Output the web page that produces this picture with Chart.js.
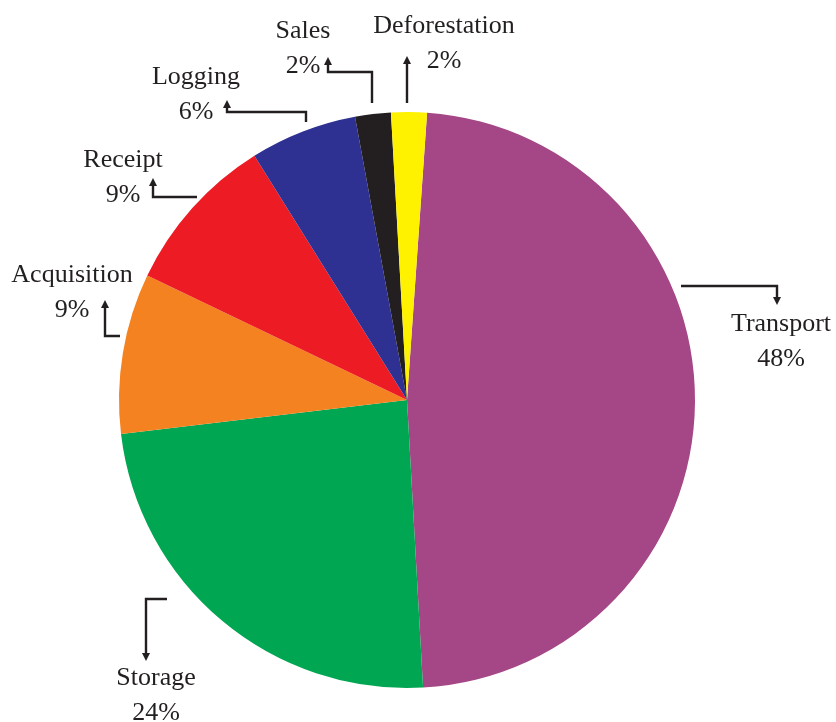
<!DOCTYPE html>
<html>
<head>
<meta charset="utf-8">
<script src="https://cdn.jsdelivr.net/npm/chart.js@4.4.0/dist/chart.umd.min.js"></script>
<style>
  html, body { margin: 0; padding: 0; background: #ffffff; }
  #wrap { width: 836px; height: 722px; position: relative; }
</style>
</head>
<body>
<div id="wrap"><canvas id="c" width="836" height="722"></canvas></div>
<script>
// ---- data ----
const categories = ["Transport", "Storage", "Acquisition", "Receipt", "Logging", "Sales", "Deforestation"];
const shares = [48, 24, 9, 9, 6, 2, 2];
const percentLabels = ["48%", "24%", "9%", "9%", "6%", "2%", "2%"];
const sliceColors = ["#a54686", "#00a651", "#f58220", "#ed1c24", "#2e3192", "#231f20", "#fff200"];

// ---- callout layout (relative to pie centre, in px) ----
// path: connector polyline, arrow at the last point; text: centre of the name line
const callouts = [
  { path: [[274, -114], [370, -114], [370, -95]], text: [374, -76] },   // Transport
  { path: [[-240, 199], [-261, 199], [-261, 261]], text: [-251, 278] }, // Storage
  { path: [[-287, -64], [-302, -64], [-302, -100]], text: [-335, -125] }, // Acquisition
  { path: [[-210, -203], [-254, -203], [-254, -222]], text: [-284, -240] }, // Receipt
  { path: [[-101, -278], [-101, -288], [-180, -288], [-180, -300]], text: [-211, -323] }, // Logging
  { path: [[-35, -297], [-35, -328], [-79, -328], [-79, -343]], text: [-104, -369] }, // Sales
  { path: [[0, -297], [0, -344]], text: [37, -374] } // Deforestation
];

const ink = "#231f20";
const calloutPlugin = {
  id: "callouts",
  afterDraw(chart) {
    const meta = chart.getDatasetMeta(0);
    const arc0 = meta.data[0];
    const cx = arc0.x, cy = arc0.y;
    const ctx = chart.ctx;
    ctx.save();
    ctx.strokeStyle = ink;
    ctx.fillStyle = ink;
    ctx.lineWidth = 2.4;
    ctx.lineJoin = "miter";
    callouts.forEach((c, i) => {
      const pts = c.path.map(p => [cx + p[0], cy + p[1]]);
      const n = pts.length;
      const last = pts[n - 1], prev = pts[n - 2];
      const dx = last[0] - prev[0], dy = last[1] - prev[1];
      const len = Math.hypot(dx, dy);
      const ux = dx / len, uy = dy / len;
      const ah = 8, aw = 4;
      ctx.beginPath();
      ctx.moveTo(pts[0][0], pts[0][1]);
      for (let k = 1; k < n - 1; k++) ctx.lineTo(pts[k][0], pts[k][1]);
      ctx.lineTo(last[0] - ux * (ah - 1), last[1] - uy * (ah - 1));
      ctx.stroke();
      ctx.beginPath();
      ctx.moveTo(last[0], last[1]);
      ctx.lineTo(last[0] - ux * ah - uy * aw, last[1] - uy * ah + ux * aw);
      ctx.lineTo(last[0] - ux * ah + uy * aw, last[1] - uy * ah - ux * aw);
      ctx.closePath();
      ctx.fill();
      ctx.font = "26px 'Liberation Serif', 'DejaVu Serif', serif";
      ctx.textAlign = "center";
      ctx.textBaseline = "middle";
      const tx = cx + c.text[0], ty = cy + c.text[1];
      ctx.fillText(categories[i], tx, ty);
      ctx.fillText(percentLabels[i], tx, ty + 35);
    });
    ctx.restore();
  }
};

new Chart(document.getElementById("c"), {
  type: "pie",
  data: {
    labels: categories,
    datasets: [{
      data: shares,
      backgroundColor: sliceColors,
      borderWidth: 0,
      hoverOffset: 0
    }]
  },
  options: {
    responsive: false,
    animation: false,
    rotation: 4,
    layout: { padding: { left: 119, right: 141, top: 112, bottom: 34 } },
    plugins: {
      legend: { display: false },
      tooltip: { enabled: false },
      title: { display: false }
    }
  },
  plugins: [calloutPlugin]
});
</script>
</body>
</html>
